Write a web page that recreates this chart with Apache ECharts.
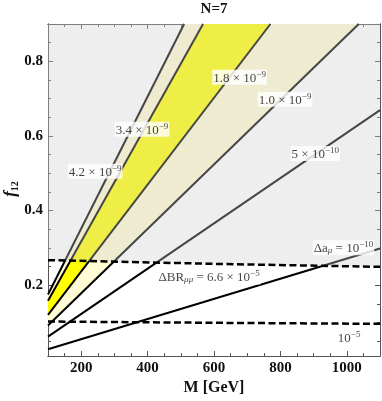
<!DOCTYPE html>
<html><head><meta charset="utf-8">
<script src="https://cdn.jsdelivr.net/npm/echarts@6/dist/echarts.min.js"></script>
<style>html,body{margin:0;padding:0;background:#fff}#c{width:382px;height:401px}</style>
</head><body><div id="c"></div>
<script>
// Axis ranges and tick labels
const xRange = [100, 1100];
const yRange = [0.01, 0.9];
const xMajor = [200, 400, 600, 800, 1000];
const xMinor = [150, 250, 300, 350, 450, 500, 550, 650, 700, 750, 850, 900, 950, 1050];
const yMajor = [0.2, 0.4, 0.6, 0.8];
const yMinor = [0.05, 0.1, 0.15, 0.25, 0.3, 0.35, 0.45, 0.5, 0.55, 0.65, 0.7, 0.75, 0.85];

// Δa_mu contour lines: [M, f12] endpoints
const da42 = [[100, 0.175], [510, 0.9]];
const da34 = [[100, 0.158], [567, 0.9]];
const da18 = [[100, 0.120], [770, 0.9]];
const da10 = [[100, 0.092], [1036, 0.9]];
const da05 = [[100, 0.062], [1100, 0.669]];
const da01 = [[100, 0.028], [1100, 0.298]];

// ΔBR_mumu contours (dashed)
const br66 = [[100, 0.267], [600, 0.257], [1100, 0.249]];
const br10 = [[100, 0.1025], [600, 0.099], [1100, 0.0962]];

// Labels: [M, f12, text]
const labels = [
  [677, 0.757, '{n|1.8 × 10}{s|−9}'],
  [814, 0.698, '{n|1.0 × 10}{s|−9}'],
  [383, 0.618, '{n|3.4 × 10}{s|−9}'],
  [242, 0.505, '{n|4.2 × 10}{s|−9}'],
  [905, 0.553, '{n|5 × 10}{s|−10}'],
  [990, 0.300, '{n|Δa}{b|μ}{n| = 10}{s|−10}'],
  [585, 0.222, '{n|ΔBR}{b|μμ}{n| = 6.6 × 10}{s|−5}'],
  [1007, 0.059, '{n|10}{s|−5}']
];

const SERIF = '"Liberation Serif", "DejaVu Serif", serif';
const colYellow = '#ffff00';
const colCream = '#fffbd4';
const overlay = 'rgba(205,205,205,0.34)';

function poly(points, color, z) {
  return {
    type: 'custom', z: z, silent: true, animation: false, clip: true,
    xAxisIndex: 0, yAxisIndex: 0,
    data: [0],
    renderItem: function (params, api) {
      return { type: 'polygon', shape: { points: points.map(p => api.coord(p)) }, style: { fill: color } };
    }
  };
}
function solid(d, z) {
  return { type: 'line', data: d, symbol: 'none', z: z, silent: true, animation: false,
    lineStyle: { color: '#000', width: 2 } };
}
function dashed(d, z) {
  return { type: 'line', data: d, symbol: 'none', z: z, silent: true, animation: false,
    lineStyle: { color: '#000', width: 2.5, type: [7, 3.5] } };
}

const band1 = [da42[0], da42[1], da34[1], da34[0]];
const band2 = [da34[0], da34[1], da18[1], da18[0]];
const band3 = [da18[0], da18[1], da10[1], da10[0]];
const shade = br66.concat([[xRange[1], yRange[1]], [xRange[0], yRange[1]]]);

function xAx(pos, ticks, len, lab) {
  return { type: 'value', position: pos, min: xRange[0], max: xRange[1],
    axisLine: { show: true, onZero: false, lineStyle: { color: '#555', width: 1 } },
    axisTick: { show: true, inside: true, length: len, customValues: ticks, lineStyle: { color: '#555' } },
    axisLabel: lab ? { show: true, customValues: ticks, margin: 5, color: '#111', fontFamily: SERIF, fontWeight: 'bold', fontSize: 15,
      formatter: v => String(v) } : { show: false },
    splitLine: { show: false } };
}
function yAx(pos, ticks, len, lab) {
  return { type: 'value', position: pos, min: yRange[0], max: yRange[1],
    axisLine: { show: true, onZero: false, lineStyle: { color: '#555', width: 1 } },
    axisTick: { show: true, inside: true, length: len, customValues: ticks, lineStyle: { color: '#555' } },
    axisLabel: lab ? { show: true, customValues: ticks, margin: 5, color: '#111', fontFamily: SERIF, fontWeight: 'bold', fontSize: 15,
      formatter: v => v.toFixed(1) } : { show: false },
    splitLine: { show: false } };
}

const chart = echarts.init(document.getElementById('c'), null, { renderer: 'canvas' });
chart.setOption({
  animation: false,
  backgroundColor: '#fff',
  grid: { left: 48, right: 2, top: 24, bottom: 45, containLabel: false, outerBoundsMode: 'none' },
  xAxis: [xAx('bottom', xMajor, 5, true), xAx('top', xMajor, 5, false), xAx('bottom', xMinor, 3, false), xAx('top', xMinor, 3, false)],
  yAxis: [yAx('left', yMajor, 5, true), yAx('right', yMajor, 5, false), yAx('left', yMinor, 3, false), yAx('right', yMinor, 3, false)],
  series: [
    poly(band1, colCream, 1),
    poly(band2, colYellow, 1),
    poly(band3, colCream, 1),
    solid(da42, 3), solid(da34, 3), solid(da18, 3), solid(da10, 3), solid(da05, 3), solid(da01, 3),
    poly(shade, overlay, 5),
    dashed(br66, 6), dashed(br10, 6),
    {
      type: 'scatter', z: 10, silent: true, animation: false, symbolSize: 0,
      data: labels.map(l => ({ value: [l[0], l[1]], txt: l[2] })),
      label: {
        show: true, position: 'inside', backgroundColor: '#fff', padding: [0, 1],
        formatter: p => p.data.txt,
        rich: {
          n: { fontFamily: SERIF, fontSize: 13, color: '#111', lineHeight: 15, verticalAlign: 'bottom' },
          s: { fontFamily: SERIF, fontSize: 9, color: '#111', lineHeight: 9, verticalAlign: 'top' },
          b: { fontFamily: SERIF, fontSize: 9, color: '#111', fontStyle: 'italic', lineHeight: 9, verticalAlign: 'bottom' }
        }
      }
    }
  ],
  graphic: [
    { type: 'text', x: 214, y: 9, style: { text: 'N=7', font: 'bold 15px ' + SERIF, fill: '#111', align: 'center', verticalAlign: 'middle' } },
    { type: 'text', x: 214, y: 388, style: { text: 'M [GeV]', font: 'bold 16px ' + SERIF, fill: '#111', align: 'center', verticalAlign: 'middle' } },
    { type: 'text', x: 11, y: 189, rotation: Math.PI / 2,
      style: { text: '{f|f}{b|12}', align: 'center', verticalAlign: 'middle', fill: '#111',
        rich: { f: { fontFamily: SERIF, fontStyle: 'italic', fontWeight: 'bold', fontSize: 17, lineHeight: 18, verticalAlign: 'top' },
                b: { fontFamily: SERIF, fontWeight: 'bold', fontSize: 10, lineHeight: 10, verticalAlign: 'bottom' } } } }
  ]
});
</script></body></html>
